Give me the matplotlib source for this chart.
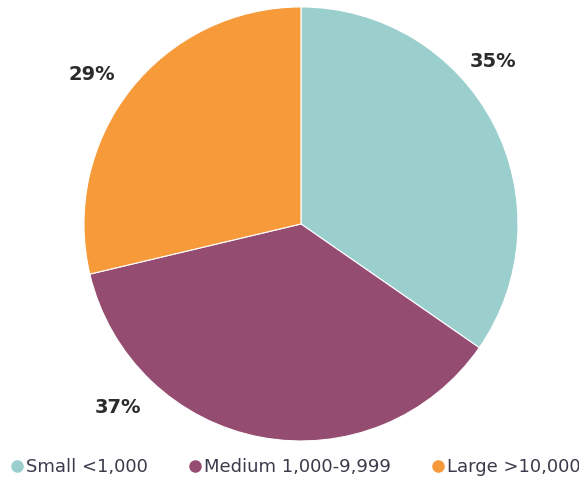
import matplotlib.pyplot as plt
from matplotlib.lines import Line2D

categories = ['Small <1,000', 'Medium 1,000-9,999', 'Large >10,000']
shares = [35, 37, 29]
labels = ['35%', '37%', '29%']
colors = ['#9BCFCD', '#954C71', '#F79A3A']

# where the percentage labels sit (data coords, pie radius 1)
label_pos = [(0.885, 0.747), (-0.843, -0.848), (-0.963, 0.687)]

fig = plt.figure(figsize=(5.79, 4.83), dpi=100)
ax = fig.add_axes([0.145, 0.087, 0.7496, 0.8986])

wedges, _ = ax.pie(shares, colors=colors, startangle=90, counterclock=False,
                   wedgeprops=dict(edgecolor='white', linewidth=0.8))
ax.set_xlim(-1, 1)
ax.set_ylim(-1, 1)
ax.set_aspect('equal')
ax.axis('off')

for txt, (x, y) in zip(labels, label_pos):
    ax.text(x, y, txt, ha='center', va='center', fontsize=14,
            fontweight='bold', color='#2b2b2b')

handles = [Line2D([], [], marker='o', linestyle='', markersize=8,
                  markerfacecolor=c, markeredgecolor=c) for c in colors]
leg = fig.legend(handles, categories, loc='center', bbox_to_anchor=(0.508, 0.033),
                 ncol=3, frameon=False, fontsize=13, handletextpad=0.0,
                 columnspacing=2.1, handlelength=1.0)
for t in leg.get_texts():
    t.set_color('#3b3b4b')

fig.savefig('out.png', dpi=100)
